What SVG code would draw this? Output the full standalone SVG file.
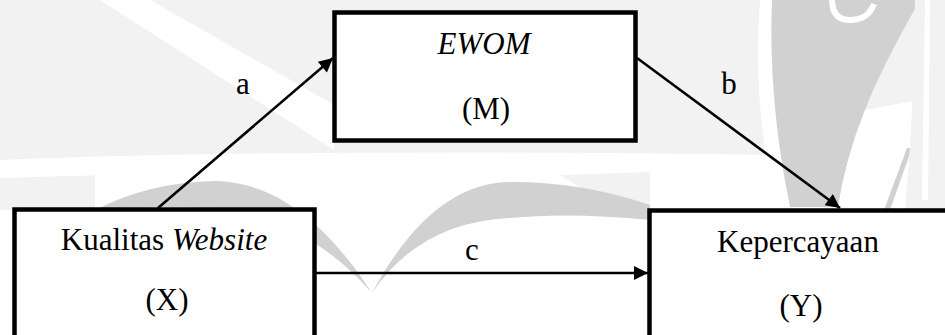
<svg xmlns="http://www.w3.org/2000/svg" width="945" height="335" viewBox="0 0 945 335">
<defs>
<style>
.wl{fill:#f2f2f2}
.wd{fill:#d1d1d1}
.ww{fill:#ffffff}
.box{fill:#ffffff;stroke:#000000;stroke-width:4.5}
.edge{stroke:#000000;stroke-width:2.5;fill:none}
text{font-family:'Liberation Serif','Times New Roman',serif;font-size:31px;fill:#000000;text-anchor:middle}
.it{font-style:italic}
</style>
<marker id="ah" viewBox="0 0 10 10" refX="10" refY="5" markerWidth="6.5" markerHeight="5.6" markerUnits="strokeWidth" orient="auto">
<path d="M0,0 L10,5 L0,10 z" fill="#000000"/>
</marker>
</defs>
<rect width="945" height="335" fill="#ffffff"/>
<g id="watermark">
<rect class="wl" x="0" y="0" width="945" height="160"/>
<path class="wl" d="M0,172 L95,172 L95,210 L0,210 z"/>
<path class="wl" d="M560,175 L650,172 L650,210 L600,200 z"/>
<path class="ww" d="M100,0 L150,0 L334,105 L334,150 z"/>
<path class="ww" d="M0,160 Q300,148 775,155 L775,172 Q300,168 0,178 z"/>
<path class="ww" d="M760,0 L772,0 Q768,100 790,207 L775,207 Q752,100 760,0 z"/>
<path class="wd" d="M772,0 L920,0 Q880,70 865,110 Q845,160 838,207 L790,207 Q768,100 772,0 z"/>
<path class="ww" d="M865,110 L945,95 L945,210 L838,210 Q845,160 865,110 z"/>
<path class="wd" d="M907,148 L912,148 L890,210 L884,210 z"/>
<path class="wl" d="M915,0 L945,0 L945,210 L905,210 Q915,100 915,0 z"/>
<path class="ww" d="M925,0 L930,0 L928,200 L922,200 z"/>
<path d="M832,0 Q832,20 850,20 Q868,20 874,4" fill="none" stroke="#ffffff" stroke-width="6"/>
<path class="wd" d="M95,210 Q150,182 215,181 Q300,182 372,293 Q310,222 220,208 Q150,205 95,210 z"/>
<path class="wd" d="M372,293 Q430,185 507,182 Q580,181 650,205 L650,220 Q570,212 510,218 Q420,222 372,293 z"/>
</g>
<g id="connectors">
<line class="edge" x1="158" y1="208" x2="333" y2="58" marker-end="url(#ah)"/>
<line class="edge" x1="637" y1="58" x2="840" y2="208" marker-end="url(#ah)"/>
<line class="edge" x1="316" y1="273" x2="648" y2="273" marker-end="url(#ah)"/>
<text font-family="Liberation Serif, serif" x="243" y="94">a</text>
<text font-family="Liberation Serif, serif" x="729" y="94">b</text>
<text font-family="Liberation Serif, serif" x="472" y="260">c</text>
</g>
<g id="node-m">
<rect class="box" x="334.5" y="12.5" width="301" height="128"/>
<text class="it" font-family="Liberation Serif, serif" x="484" y="54">EWOM</text>
<text font-family="Liberation Serif, serif" x="486" y="119">(M)</text>
</g>
<g id="node-x">
<rect class="box" x="14.5" y="209.5" width="300" height="135"/>
<text font-family="Liberation Serif, serif" x="164" y="250">Kualitas <tspan class="it">Website</tspan></text>
<text font-family="Liberation Serif, serif" x="167" y="310">(X)</text>
</g>
<g id="node-y">
<rect class="box" x="649.5" y="210.5" width="310" height="135"/>
<text font-family="Liberation Serif, serif" x="798" y="252">Kepercayaan</text>
<text font-family="Liberation Serif, serif" x="801" y="316">(Y)</text>
</g>
</svg>
